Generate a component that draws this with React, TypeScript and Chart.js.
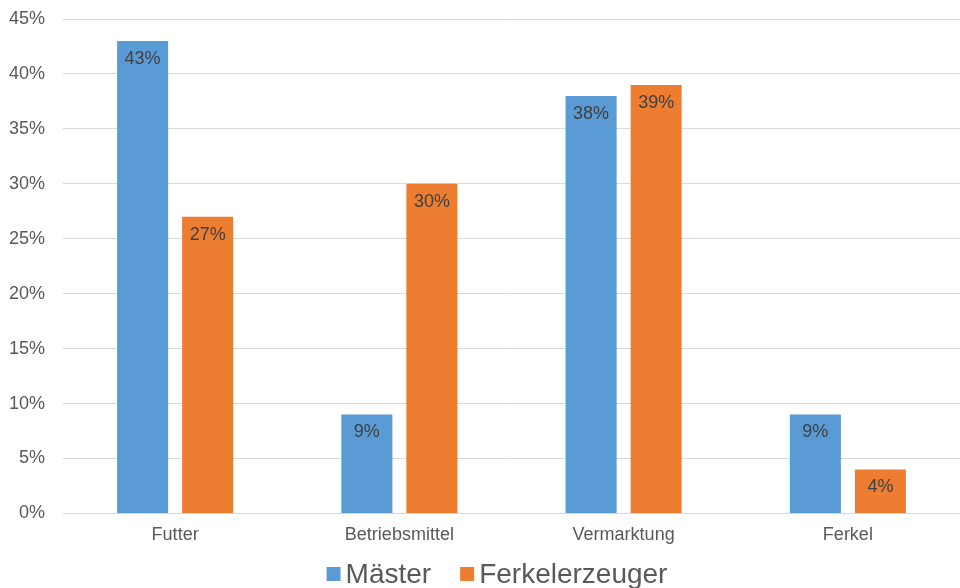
import React, { useEffect, useRef } from "react";
import { Chart, registerables } from "chart.js";

Chart.register(...registerables);

const categories = ["Futter", "Betriebsmittel", "Vermarktung", "Ferkel"];
const maesterValues = [43, 9, 38, 9];
const ferkelValues = [27, 30, 39, 4];
const seriesNames = ["Mäster", "Ferkelerzeuger"];
const seriesColors = ["#5B9BD5", "#ED7D31"];
const yTicks = [0, 5, 10, 15, 20, 25, 30, 35, 40, 45];

const FONT = "'Liberation Sans', Arial, sans-serif";

const dataLabelPlugin = {
  id: "dataLabels",
  afterDatasetsDraw(chart: any) {
    const ctx = chart.ctx;
    ctx.save();
    ctx.font = `18px ${FONT}`;
    ctx.fillStyle = "#404040";
    ctx.textAlign = "center";
    ctx.textBaseline = "middle";
    chart.data.datasets.forEach((ds: any, i: number) => {
      const meta = chart.getDatasetMeta(i);
      meta.data.forEach((bar: any, j: number) => {
        ctx.fillText(`${ds.data[j]}%`, bar.x, bar.y + 18);
      });
    });
    ctx.restore();
  },
};

const legendPlugin = {
  id: "customLegend",
  afterDraw(chart: any) {
    const ctx = chart.ctx;
    ctx.save();
    ctx.font = `28px ${FONT}`;
    ctx.textBaseline = "middle";
    const box = 14;
    const gap = 5;
    const itemGap = 29;
    const widths = seriesNames.map((n) => box + gap + ctx.measureText(n).width);
    const total = widths.reduce((a, b) => a + b, 0) + itemGap * (seriesNames.length - 1);
    let x = (chart.width - total) / 2 + 17;
    const y = 574;
    seriesNames.forEach((n, i) => {
      ctx.fillStyle = seriesColors[i];
      ctx.fillRect(x, y - box / 2, box, box);
      ctx.fillStyle = "#595959";
      ctx.textAlign = "left";
      ctx.fillText(n, x + box + gap, y + 1);
      x += widths[i] + itemGap;
    });
    ctx.restore();
  },
};

export default function App() {
  const ref = useRef<HTMLCanvasElement>(null);
  useEffect(() => {
    if (!ref.current) return;
    const chart = new Chart(ref.current, {
      type: "bar",
      data: {
        labels: categories,
        datasets: [
          { label: seriesNames[0], data: maesterValues, backgroundColor: seriesColors[0] },
          { label: seriesNames[1], data: ferkelValues, backgroundColor: seriesColors[1] },
        ],
      },
      options: {
        animation: false,
        responsive: false,
        maintainAspectRatio: false,
        layout: { padding: { top: 19, left: 8, right: 0, bottom: 31 } },
        datasets: {
          bar: { categoryPercentage: 0.58, barPercentage: 0.785 },
        } as any,
        plugins: {
          legend: { display: false },
          tooltip: { enabled: false },
        },
        scales: {
          x: {
            grid: { display: false, drawTicks: false },
            border: { display: true, color: "#D9D9D9", width: 1 },
            ticks: { color: "#595959", font: { family: FONT, size: 18 }, padding: 11 },
          },
          y: {
            min: 0,
            max: 45,
            afterBuildTicks(axis: any) {
              axis.ticks = yTicks.map((v) => ({ value: v }));
            },
            afterFit(axis: any) {
              axis.width = 55;
              axis.paddingTop = 0;
              axis.paddingBottom = 0;
            },
            grid: { color: "#D9D9D9", lineWidth: 1, drawTicks: false },
            border: { display: false },
            ticks: {
              color: "#595959",
              font: { family: FONT, size: 18 },
              padding: 18,
              callback: (v: any) => `${v}%`,
            },
          },
        },
      },
      plugins: [dataLabelPlugin, legendPlugin],
    });
    return () => chart.destroy();
  }, []);
  return (
    <canvas
      ref={ref}
      width={960}
      height={588}
      style={{ position: "fixed", left: 0, top: 0, width: 960, height: 588, background: "#fff" }}
    />
  );
}
